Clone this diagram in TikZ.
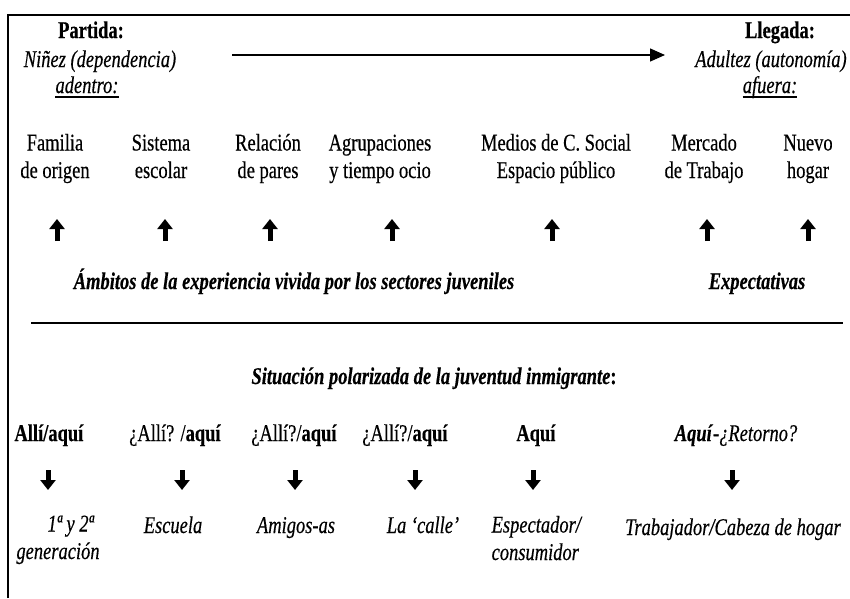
\documentclass[tikz,border=0pt]{standalone}
\usepackage{fontspec}
\setmainfont[FakeStretch=0.77,FakeBold=0.35]{Liberation Serif}
\usetikzlibrary{arrows.meta}
\begin{document}
\begin{tikzpicture}[x=1pt,y=-1pt,
  txt/.style={inner sep=0pt, font=\fontsize{24}{27.5}\selectfont},
  two/.style={txt, align=center, anchor=base},
  one/.style={txt, anchor=base},
  frame/.style={line width=2pt},
  blockarrow/.style={line width=5pt, -{Triangle[length=10pt,width=15pt]}},
  mainarrow/.style={line width=1.3pt, -{Triangle[length=15pt,width=13pt]}},
  uline/.style={line width=1.1pt}]
\useasboundingbox (0,0) rectangle (850,598);
\fill[white] (0,0) rectangle (850,598);
% frame
\draw[frame] (8,598) -- (8,15) -- (850,15);
% top block
\node[one] (partida) at (91,38) {\textbf{Partida:}};
\node[one] (ninez) at (100,67) {\textit{Niñez (dependencia)}};
\node[one] (adentro) at (87,93) {\textit{adentro:}};
\draw[uline] ([yshift=-4pt]adentro.base west) -- ([yshift=-4pt]adentro.base east);
\node[one] (llegada) at (780,38) {\textbf{Llegada:}};
\node[one] (adultez) at (771,67) {\textit{Adultez (autonomía)}};
\node[one] (afuera) at (770,93) {\textit{afuera:}};
\draw[uline] ([yshift=-4pt]afuera.base west) -- ([yshift=-4pt]afuera.base east);
\coordinate (ma0) at (232,55);
\coordinate (ma1) at (665,55);
\draw[mainarrow] (ma0) -- (ma1);
% categories
\node[two] (fam) at (55,178) {Familia\\de origen};
\node[two] (sis) at (161,178) {Sistema\\escolar};
\node[two] (rel) at (268,178) {Relación\\de pares};
\node[two] (agr) at (380,178) {Agrupaciones\\y tiempo ocio};
\node[two] (med) at (556,178) {Medios de C. Social\\Espacio público};
\node[two] (mer) at (704,178) {Mercado\\de Trabajo};
\node[two] (nue) at (808,178) {Nuevo\\hogar};
% up arrows
\foreach \n/\x in {1/57,2/165,3/270,4/392,5/552,6/707,7/808}{
  \coordinate (ub\n) at (\x,241);
  \coordinate (ut\n) at (\x,219);
  \draw[blockarrow] (ub\n) -- (ut\n);
}
\node[one] (ambitos) at (294,289) {\textbf{\textit{Ámbitos de la experiencia vivida por los sectores juveniles}}};
\node[one] (expect) at (757,289) {\textbf{\textit{Expectativas}}};
% rule
\coordinate (r0) at (31,323);
\coordinate (r1) at (843,323);
\draw[frame] (r0) -- (r1);
\node[one] (situ) at (434,384) {\textbf{\textit{Situación polarizada de la juventud inmigrante}:}};
% alli/aqui row
\node[one] (a1) at (49,441) {\textbf{Allí/aquí}};
\node[one] (a2) at (175,441) {¿Allí? /\textbf{aquí}};
\node[one] (a3) at (294,441) {¿Allí?/\textbf{aquí}};
\node[one] (a4) at (405,441) {¿Allí?/\textbf{aquí}};
\node[one] (a5) at (536,441) {\textbf{Aquí}};
\node[one] (a6) at (736,441) {\textbf{\textit{Aquí}}\textit{-¿Retorno?}};
% down arrows
\foreach \n/\x in {1/48,2/182,3/295,4/415,5/533,6/732}{
  \coordinate (db\n) at (\x,470);
  \coordinate (dt\n) at (\x,490);
  \draw[blockarrow] (db\n) -- (dt\n);
}
% bottom labels
\node[two] (b1) at (58,559) {\textit{\hspace*{26pt}1ª y 2ª}\\\textit{generación}};
\node[one] (b2) at (173,533) {\textit{Escuela}};
\node[one] (b3) at (296,533) {\textit{Amigos-as}};
\node[one] (b4) at (423,533) {\textit{La ‘calle’}};
\node[txt, align=left, anchor=base] (b5) at (537,560) {\textit{Espectador/}\\\textit{consumidor}};
\node[one] (b6) at (733,535) {\textit{Trabajador/Cabeza de hogar}};
\end{tikzpicture}
\end{document}
